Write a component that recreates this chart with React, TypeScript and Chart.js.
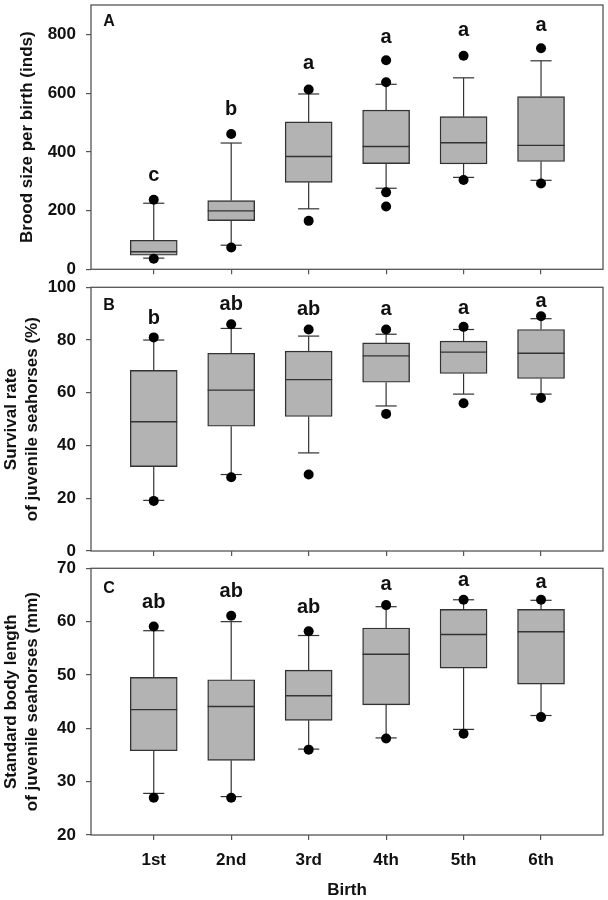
import React, { useEffect, useRef } from 'react';
import { Chart, registerables } from 'chart.js';

Chart.register(...registerables);

const FONT = '"Liberation Sans", Arial, Helvetica, sans-serif';

// ---------- data ----------
const categories = ['1st', '2nd', '3rd', '4th', '5th', '6th'];

// Panel A: brood size per birth (inds)
const broodLow = [38, 82, 206, 276, 313, 303];
const broodQ1 = [48, 166, 296, 360, 359, 367];
const broodMedian = [60, 199, 384, 418, 431, 422];
const broodQ3 = [99, 234, 502, 542, 520, 588];
const broodHigh = [225, 430, 597, 630, 652, 710];
const broodOutliers = [[237, 36], [461, 74], [612, 165], [637, 712, 262, 214], [727, 304], [753, 292]];
const broodLetters = ['c', 'b', 'a', 'a', 'a', 'a'];
const broodLetterAt = [318, 544, 701, 790, 812, 830];
const broodTicks = [0, 200, 400, 600, 800];

// Panel B: survival rate (%)
const survLow = [19.2, 29, 37.2, 55, 59.5, 59.5];
const survQ1 = [32, 47.3, 51, 64, 67.3, 65.4];
const survMedian = [49, 61, 65, 74, 75.4, 75];
const survQ3 = [68.5, 75, 75.8, 78.9, 79.6, 84];
const survHigh = [80, 84.4, 81.5, 82.2, 84, 88.1];
const survOutliers = [[81, 19], [86, 28], [84, 29], [84, 52], [85, 56], [89, 58]];
const survLetters = ['b', 'ab', 'ab', 'a', 'a', 'a'];
const survLetterAt = [88.2, 93.3, 91.4, 91.4, 91.8, 94.6];
const survTicks = [0, 20, 40, 60, 80, 100];

// Panel C: standard body length (mm)
const lenLow = [27.8, 27.2, 36.1, 38.2, 39.8, 42.4];
const lenQ1 = [35.8, 34, 41.5, 44.4, 51.3, 48.3];
const lenMedian = [43.5, 44.1, 46.1, 53.9, 57.6, 58.1];
const lenQ3 = [49.55, 49.1, 50.9, 58.8, 62.3, 62.3];
const lenHigh = [58.3, 60, 57.4, 62.8, 64.1, 64];
const lenOutliers = [[59.1, 27], [61.1, 27], [58.2, 36], [63.1, 38.1], [64.1, 39], [64.1, 42.1]];
const lenLetters = ['ab', 'ab', 'ab', 'a', 'a', 'a'];
const lenLetterAt = [63.6, 65.6, 62.7, 67, 67.7, 67.4];
const lenTicks = [20, 30, 40, 50, 60, 70];

// ---------- panel specs ----------
type Spec = {
  tag: string;
  top: number;
  height: number;
  padTop: number;
  xAxisHeight: number;
  yMin: number;
  yMax: number;
  yTicks: number[];
  yTitle: string | string[];
  yTitlePad: number;
  tagDy: number;
  low: number[];
  q1: number[];
  med: number[];
  q3: number[];
  high: number[];
  outliers: number[][];
  letters: string[];
  letterAt: number[];
  showX: boolean;
};

const panels: Spec[] = [
  {
    tag: 'A', top: 0, height: 278, padTop: 2, xAxisHeight: 8.7,
    yMin: 0, yMax: 900, yTicks: broodTicks,
    yTitle: 'Brood size per birth (inds)', yTitlePad: 16.5, tagDy: 17,
    low: broodLow, q1: broodQ1, med: broodMedian, q3: broodQ3, high: broodHigh,
    outliers: broodOutliers, letters: broodLetters, letterAt: broodLetterAt, showX: false,
  },
  {
    tag: 'B', top: 278, height: 282, padTop: 9.3, xAxisHeight: 9,
    yMin: 0, yMax: 100, yTicks: survTicks,
    yTitle: ['Survival rate', 'of juvenile seahorses (%)'], yTitlePad: 0.5, tagDy: 18,
    low: survLow, q1: survQ1, med: survMedian, q3: survQ3, high: survHigh,
    outliers: survOutliers, letters: survLetters, letterAt: survLetterAt, showX: false,
  },
  {
    tag: 'C', top: 560, height: 340, padTop: 8.3, xAxisHeight: 65,
    yMin: 20, yMax: 70, yTicks: lenTicks,
    yTitle: ['Standard body length', 'of juvenile seahorses (mm)'], yTitlePad: 0.5, tagDy: 20,
    low: lenLow, q1: lenQ1, med: lenMedian, q3: lenQ3, high: lenHigh,
    outliers: lenOutliers, letters: lenLetters, letterAt: lenLetterAt, showX: true,
  },
];

function buildConfig(s: Spec): any {
  const boxData = categories.map((_, i) => ({ x: i + 1, y: [s.q1[i], s.q3[i]] }));
  const dotData: { x: number; y: number }[] = [];
  s.outliers.forEach((arr, i) => arr.forEach((v) => dotData.push({ x: i + 1, y: v })));

  const extras = {
    id: 'boxExtras' + s.tag,
    afterDatasetDraw(chart: any, args: any) {
      if (args.index !== 0) return;
      const { ctx } = chart;
      const x = chart.scales.x;
      const y = chart.scales.y;
      const meta = chart.getDatasetMeta(0);
      ctx.save();
      ctx.strokeStyle = '#333';
      ctx.lineWidth = 1.2;
      const line = (x1: number, y1: number, x2: number, y2: number) => {
        ctx.beginPath();
        ctx.moveTo(x1, y1);
        ctx.lineTo(x2, y2);
        ctx.stroke();
      };
      categories.forEach((_, i) => {
        const px = x.getPixelForValue(i + 1);
        const bw = meta.data[i].width;
        const cap = bw * 0.45;
        const yHi = y.getPixelForValue(s.high[i]);
        const yLo = y.getPixelForValue(s.low[i]);
        line(px, y.getPixelForValue(s.q3[i]), px, yHi);
        line(px - cap / 2, yHi, px + cap / 2, yHi);
        line(px, y.getPixelForValue(s.q1[i]), px, yLo);
        line(px - cap / 2, yLo, px + cap / 2, yLo);
        ctx.lineWidth = 1.4;
        const ym = y.getPixelForValue(s.med[i]);
        line(px - bw / 2, ym, px + bw / 2, ym);
        ctx.lineWidth = 1.2;
      });
      ctx.restore();
    },
    afterDraw(chart: any) {
      const { ctx, chartArea } = chart;
      const x = chart.scales.x;
      const y = chart.scales.y;
      ctx.save();
      ctx.strokeStyle = '#555';
      ctx.lineWidth = 1.3;
      ctx.strokeRect(chartArea.left, chartArea.top, chartArea.right - chartArea.left, chartArea.bottom - chartArea.top);
      ctx.fillStyle = '#111';
      ctx.textAlign = 'center';
      ctx.textBaseline = 'middle';
      ctx.font = `bold 20px ${FONT}`;
      s.letters.forEach((t, i) => {
        ctx.fillText(t, x.getPixelForValue(i + 1), y.getPixelForValue(s.letterAt[i]));
      });
      ctx.font = `bold 16px ${FONT}`;
      ctx.fillText(s.tag, chartArea.left + 18, chartArea.top + s.tagDy);
      ctx.restore();
    },
  };

  return {
    type: 'bar',
    data: {
      datasets: [
        {
          type: 'bar',
          data: boxData,
          backgroundColor: '#b3b3b3',
          borderColor: '#333',
          borderWidth: 1.4,
          borderSkipped: false,
          barThickness: 47,
          order: 2,
        },
        {
          type: 'line',
          data: dotData,
          showLine: false,
          pointRadius: 5,
          pointBackgroundColor: '#000',
          pointBorderColor: '#000',
          pointBorderWidth: 0,
          order: 1,
        },
      ],
    },
    options: {
      animation: false,
      responsive: false,
      maintainAspectRatio: false,
      devicePixelRatio: 1,
      layout: { padding: { top: s.padTop, right: 3, left: 0, bottom: 0 } },
      plugins: { legend: { display: false }, tooltip: { enabled: false } },
      scales: {
        x: {
          type: 'linear',
          min: 0.19,
          max: 6.8,
          offset: false,
          afterBuildTicks: (sc: any) => {
            sc.ticks = categories.map((_, i) => ({ value: i + 1 }));
          },
          afterFit: (sc: any) => {
            sc.height = s.xAxisHeight;
            sc.paddingLeft = 0;
            sc.paddingRight = 0;
          },
          grid: { display: true, offset: false, drawOnChartArea: false, drawTicks: true, tickLength: 5, color: '#555', lineWidth: 1.2 },
          border: { display: false },
          ticks: {
            autoSkip: false,
            maxRotation: 0,
            padding: 10,
            color: '#111',
            font: { family: FONT, size: 17, weight: 'bold' },
            callback: (v: any) => (s.showX ? categories[Math.round(Number(v)) - 1] : ''),
          },
          title: {
            display: s.showX,
            text: 'Birth',
            color: '#111',
            font: { family: FONT, size: 17, weight: 'bold', lineHeight: 1.1 },
            padding: { top: 0, bottom: 0 },
          },
        },
        y: {
          type: 'linear',
          min: s.yMin,
          max: s.yMax,
          afterBuildTicks: (sc: any) => {
            sc.ticks = s.yTicks.map((v) => ({ value: v }));
          },
          afterFit: (sc: any) => {
            sc.width = 91;
            sc.paddingTop = 0;
            sc.paddingBottom = 0;
          },
          grid: { display: true, drawOnChartArea: false, drawTicks: true, tickLength: 5, color: '#555', lineWidth: 1.2 },
          border: { display: false },
          ticks: {
            padding: 10,
            color: '#111',
            font: { family: FONT, size: 17, weight: 'bold' },
          },
          title: {
            display: true,
            text: s.yTitle,
            color: '#111',
            font: { family: FONT, size: 17, weight: 'bold', lineHeight: 1.24 },
            padding: { top: s.yTitlePad, bottom: 0 },
          },
        },
      },
    },
    plugins: [extras],
  };
}

function Panel({ spec }: { spec: Spec }) {
  const ref = useRef<HTMLCanvasElement>(null);
  useEffect(() => {
    if (!ref.current) return;
    const chart = new Chart(ref.current, buildConfig(spec));
    return () => chart.destroy();
  }, [spec]);
  return (
    <canvas
      ref={ref}
      width={608}
      height={spec.height}
      style={{ position: 'absolute', left: 0, top: spec.top, width: 608, height: spec.height, display: 'block' }}
    />
  );
}

export default function App() {
  return (
    <div style={{ position: 'absolute', left: 0, top: 0, width: 608, height: 900, background: '#fff', overflow: 'hidden' }}>
      {panels.map((p) => (
        <Panel key={p.tag} spec={p} />
      ))}
    </div>
  );
}
